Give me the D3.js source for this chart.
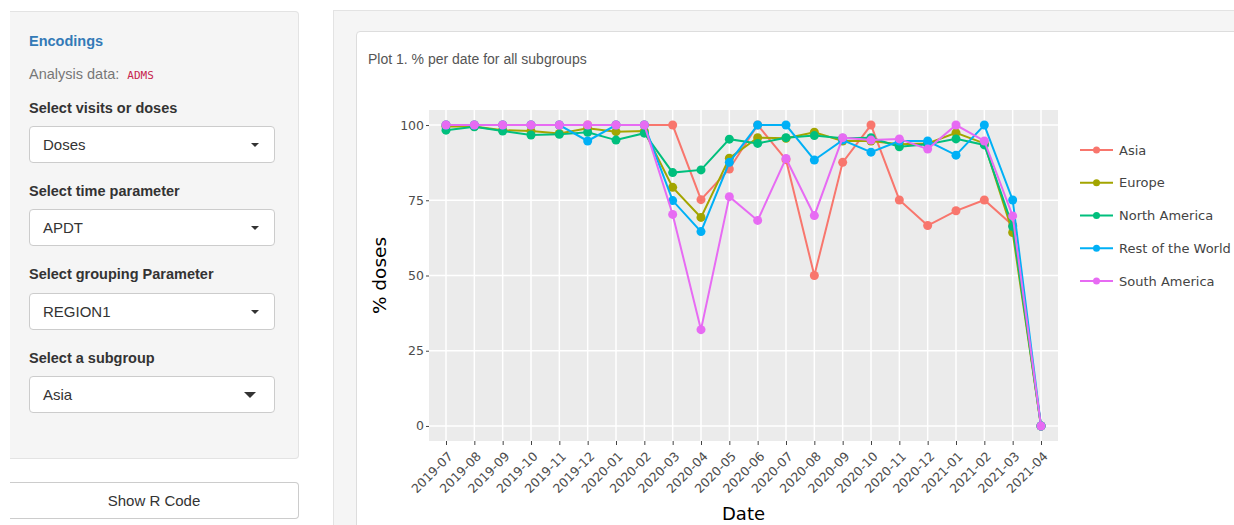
<!DOCTYPE html>
<html>
<head>
<meta charset="utf-8">
<script src="https://cdn.jsdelivr.net/npm/d3@7"></script>
<style>
  html, body { margin: 0; padding: 0; background: #fff; width: 1234px; height: 525px; overflow: hidden; }
  body { font-family: "Liberation Sans", Arial, sans-serif; position: relative; }
  .well { position: absolute; left: 10px; top: 11px; width: 288px; height: 446px; background: #f5f5f5; border: 1px solid #e3e3e3; border-left: none; border-radius: 0 4px 4px 0; }
  .abs { position: absolute; }
  .enc { left: 29px; top: 33px; color: #337ab7; font-weight: bold; font-size: 14.5px; }
  .ana { left: 29px; top: 66px; color: #777; font-size: 14.5px; }
  .ana code { font-family: "DejaVu Sans Mono", monospace; color: #c7254e; font-size: 11px; margin-left: 4px; }
  .lab { left: 29px; color: #333; font-weight: bold; font-size: 14.5px; }
  .sel { left: 29px; width: 246px; height: 37px; background: #fff; border: 1px solid #ccc; border-radius: 4px; box-sizing: border-box; }
  .sel span { position: absolute; left: 13px; top: 9px; font-size: 15px; color: #333; }
  .caret { position: absolute; right: 15px; top: 16px; width: 0; height: 0; border-left: 4px solid transparent; border-right: 4px solid transparent; border-top: 4px solid #333; }
  .caret.big { right: 18px; top: 15px; border-left-width: 6px; border-right-width: 6px; border-top-width: 6px; }
  .btn { left: 10px; top: 482px; width: 289px; height: 37px; background: #fff; border: 1px solid #ccc; border-left: none; border-radius: 0 4px 4px 0; box-sizing: border-box; text-align: center; line-height: 35px; font-size: 15px; color: #333; }
  .main { position: absolute; left: 333px; top: 10px; width: 920px; height: 530px; background: #f5f5f5; border: 1px solid #e3e3e3; }
  .card { position: absolute; left: 356px; top: 31px; width: 900px; height: 520px; background: #fff; border: 1px solid #ddd; border-radius: 4px; }
  .ptitle { left: 368px; top: 51px; color: #555; font-size: 14px; }
  svg { position: absolute; left: 0; top: 0; }
</style>
</head>
<body>
<div class="well"></div>
<div class="abs enc">Encodings</div>
<div class="abs ana">Analysis data: <code>ADMS</code></div>
<div class="abs lab" style="top:100px">Select visits or doses</div>
<div class="abs sel" style="top:126px"><span>Doses</span><div class="caret"></div></div>
<div class="abs lab" style="top:183px">Select time parameter</div>
<div class="abs sel" style="top:209px"><span>APDT</span><div class="caret"></div></div>
<div class="abs lab" style="top:266px">Select grouping Parameter</div>
<div class="abs sel" style="top:293px"><span>REGION1</span><div class="caret"></div></div>
<div class="abs lab" style="top:350px">Select a subgroup</div>
<div class="abs sel" style="top:376px"><span>Asia</span><div class="caret big"></div></div>
<div class="abs btn">Show R Code</div>
<div class="main"></div>
<div class="card"></div>
<div class="abs ptitle">Plot 1. % per date for all subgroups</div>
<svg id="chart" width="1234" height="525"></svg>
<script>
const categories = ["2019-07","2019-08","2019-09","2019-10","2019-11","2019-12","2020-01","2020-02","2020-03","2020-04","2020-05","2020-06","2020-07","2020-08","2020-09","2020-10","2020-11","2020-12","2021-01","2021-02","2021-03","2021-04"];
const seriesNames = ["Asia","Europe","North America","Rest of the World","South America"];
const asia         = [100,100,100,100,100,100,100,100,100,75.2,85.4,100,88.5,50,87.6,100,75.1,66.6,71.5,75.1,66.7,0];
const europe       = [99.5,99.5,98.3,98.0,97.2,98.9,97.8,98.0,79.3,69.3,89.0,95.8,95.6,97.6,94.7,94.7,93.6,93.9,97.4,93.9,64.3,0];
const northAmerica = [98.3,99.4,98.0,96.7,96.9,97.6,95.0,97.3,84.2,85.1,95.3,93.9,95.8,96.5,95.6,95.8,92.8,93.6,95.4,93.4,66.3,0];
const restOfWorld  = [100,100,100,100,100,94.7,100,100,74.9,64.6,87.6,100,100,88.4,95.0,91.0,94.7,94.7,90.0,100,75.1,0];
const southAmerica = [100,100,100,100,100,100,100,100,70.3,32.0,76.2,68.3,88.9,69.9,95.8,95.0,95.4,92.0,100,94.7,69.8,0];
const yTicks = [0,25,50,75,100];
const colors = ["#F8766D","#A3A500","#00BF7D","#00B0F6","#E76BF3"];

const allSeries = [asia, europe, northAmerica, restOfWorld, southAmerica];
const svg = d3.select("#chart");
const P = {left: 429, right: 1058, top: 110, bottom: 441};
const F = "DejaVu Sans, Verdana, sans-serif";

const x = d3.scalePoint().domain(categories).range([P.left, P.right]).padding(0.6);
const y = d3.scaleLinear().domain([-5, 105]).range([P.bottom, P.top]);

svg.append("rect").attr("x", P.left).attr("y", P.top)
  .attr("width", P.right - P.left).attr("height", P.bottom - P.top).attr("fill", "#EBEBEB");

const grid = svg.append("g");
grid.selectAll("line.h").data(yTicks).join("line")
  .attr("x1", P.left).attr("x2", P.right)
  .attr("y1", d => y(d)).attr("y2", d => y(d))
  .attr("stroke", "#fff").attr("stroke-width", 1.5);
grid.selectAll("line.v").data(categories).join("line")
  .attr("y1", P.top).attr("y2", P.bottom)
  .attr("x1", d => x(d)).attr("x2", d => x(d))
  .attr("stroke", "#fff").attr("stroke-width", 1.5);

const yAxis = svg.append("g").attr("transform", `translate(${P.left},0)`)
  .call(d3.axisLeft(y).tickValues(yTicks).tickSize(3).tickPadding(2));
yAxis.select(".domain").remove();
yAxis.selectAll(".tick line").attr("stroke", "#444");
yAxis.selectAll("text").attr("fill", "#4d4d4d").style("font-family", F).style("font-size", "12.5px");

const xAxis = svg.append("g").attr("transform", `translate(0,${P.bottom})`)
  .call(d3.axisBottom(x).tickSize(4).tickPadding(2));
xAxis.select(".domain").remove();
xAxis.selectAll(".tick line").attr("stroke", "#444");
xAxis.selectAll("text").attr("fill", "#4d4d4d")
  .style("font-family", F).style("font-size", "12.5px")
  .attr("text-anchor", "end").attr("dy", "0.35em")
  .attr("transform", "translate(4,13) rotate(-45)").attr("y", 0).attr("x", 0);

svg.append("text").attr("x", 380).attr("y", y(50)).attr("transform", `rotate(-90,380,${y(50)})`)
  .attr("text-anchor", "middle").attr("dy", "0.35em")
  .style("font-family", F).style("font-size", "18.5px").attr("fill", "#000")
  .text("% doses");
svg.append("text").attr("x", (P.left + P.right) / 2).attr("y", 520)
  .attr("text-anchor", "middle")
  .style("font-family", F).style("font-size", "18px").attr("fill", "#000")
  .text("Date");

const line = d3.line().x((d, i) => x(categories[i])).y(d => y(d));
allSeries.forEach((vals, si) => {
  const g = svg.append("g");
  g.append("path").datum(vals).attr("d", line).attr("fill", "none")
    .attr("stroke", colors[si]).attr("stroke-width", 2);
  g.selectAll("circle").data(vals).join("circle")
    .attr("cx", (d, i) => x(categories[i])).attr("cy", d => y(d)).attr("r", 4.5)
    .attr("fill", colors[si]);
});

const legY = d3.scalePoint().domain(seriesNames).range([150, 281]);
const leg = svg.append("g");
seriesNames.forEach((n, i) => {
  const yy = legY(n);
  leg.append("line").attr("x1", 1080).attr("x2", 1113).attr("y1", yy).attr("y2", yy)
    .attr("stroke", colors[i]).attr("stroke-width", 2);
  leg.append("circle").attr("cx", 1096.5).attr("cy", yy).attr("r", 3.5).attr("fill", colors[i]);
  leg.append("text").attr("x", 1119).attr("y", yy).attr("dy", "0.35em")
    .style("font-family", F).style("font-size", "13px").attr("fill", "#444")
    .text(n);
});
</script>
</body>
</html>
